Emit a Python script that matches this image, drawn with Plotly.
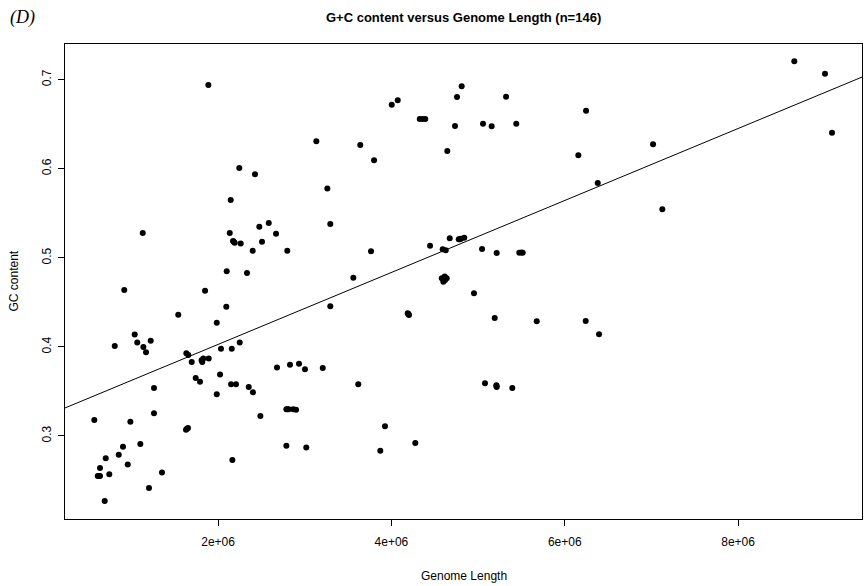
import numpy as np
import plotly.graph_objects as go

# Genome length in megabases (converted to bp below) and GC content
genome_mb = [
    1.888, 3.134, 2.245, 2.426, 2.146, 1.131, 2.135, 2.476, 2.585, 2.669,
    2.173, 2.192, 2.261, 2.507, 2.400, 2.799, 2.100, 2.334, 0.918, 1.850,
    2.095, 1.541, 1.985, 1.038, 0.808, 1.068, 1.138, 1.223, 1.169, 1.634,
    1.657, 1.696, 1.830, 1.892, 1.818, 2.034, 2.158, 2.250, 1.742, 1.792,
    2.023, 1.261, 1.985, 2.150, 2.207, 2.354, 2.403, 2.680, 2.830, 2.934,
    3.003, 0.572, 0.988, 1.261, 1.630, 1.653, 2.488, 2.788, 2.815, 2.868,
    2.900, 1.103, 0.903, 0.854, 0.704, 0.638, 0.958, 0.612, 0.638, 0.745,
    1.353, 1.203, 0.692, 2.165, 2.788, 3.018, 4.811, 4.757, 5.323, 4.004,
    4.073, 4.327, 4.391, 4.734, 5.057, 5.157, 5.441, 3.641, 3.800, 4.645,
    6.157, 3.261, 3.295, 3.765, 4.446, 4.592, 4.627, 4.673, 4.777, 4.803,
    4.841, 5.046, 5.215, 5.476, 5.515, 3.561, 4.581, 4.607, 4.638, 4.599,
    4.953, 3.295, 4.188, 4.203, 5.192, 5.677, 3.208, 3.618, 5.080, 5.211,
    5.215, 5.395, 3.926, 3.872, 4.276, 8.649, 9.003, 6.246, 7.019, 6.381,
    9.084, 7.126, 6.242, 6.396,
    0.625, 4.620, 4.615, 2.180, 4.195, 5.213, 1.640, 2.800, 4.790, 5.500,
    4.360, 1.810,
]
gc_content = [
    0.694, 0.631, 0.601, 0.594, 0.565, 0.528, 0.528, 0.535, 0.539, 0.527,
    0.519, 0.517, 0.516, 0.518, 0.508, 0.508, 0.485, 0.483, 0.464, 0.463,
    0.445, 0.436, 0.427, 0.414, 0.401, 0.405, 0.400, 0.407, 0.394, 0.393,
    0.391, 0.383, 0.387, 0.387, 0.383, 0.398, 0.398, 0.405, 0.365, 0.361,
    0.369, 0.354, 0.347, 0.358, 0.358, 0.355, 0.349, 0.377, 0.380, 0.381,
    0.375, 0.318, 0.316, 0.3255, 0.307, 0.309, 0.3225, 0.330, 0.330, 0.330,
    0.3295, 0.291, 0.288, 0.279, 0.275, 0.264, 0.268, 0.255, 0.255, 0.257,
    0.259, 0.2415, 0.227, 0.273, 0.289, 0.287, 0.6926, 0.6806, 0.681, 0.672,
    0.677, 0.656, 0.656, 0.648, 0.6506, 0.6477, 0.6506, 0.6267, 0.6095, 0.620,
    0.6151, 0.578, 0.538, 0.5074, 0.5136, 0.5096, 0.5085, 0.522, 0.5208, 0.5215,
    0.5226, 0.510, 0.5055, 0.5058, 0.5058, 0.4777, 0.477, 0.477, 0.477, 0.4732,
    0.4602, 0.4456, 0.4378, 0.4359, 0.4325, 0.4288, 0.3764, 0.358, 0.3592, 0.3569,
    0.355, 0.3539, 0.3109, 0.2835, 0.2922, 0.7207, 0.7067, 0.6652, 0.6275, 0.584,
    0.6405, 0.5545, 0.4291, 0.4142,
    0.255, 0.475, 0.479, 0.518, 0.437, 0.356, 0.308, 0.330, 0.521, 0.506,
    0.656, 0.385,
]

# Regression line (abline) coefficients
fit_intercept = 0.3220        # GC content at length 0
fit_slope_per_mb = 0.0404     # GC content change per megabase

x_tick_vals = [2e6, 4e6, 6e6, 8e6]
x_tick_text = ["2e+06", "4e+06", "6e+06", "8e+06"]
y_tick_vals = [0.3, 0.4, 0.5, 0.6, 0.7]
y_tick_text = ["0.3", "0.4", "0.5", "0.6", "0.7"]

title_text = "G+C content versus Genome Length (n=146)"
panel_label = "(D)"
x_label = "Genome Length"
y_label = "GC content"

x = np.array(genome_mb) * 1e6
y = np.array(gc_content)

x_range = [0.234e6, 9.43e6]
y_range = [0.2068, 0.7401]

line_x = np.array(x_range)
line_y = fit_intercept + fit_slope_per_mb * line_x / 1e6

fig = go.Figure()
fig.add_trace(go.Scatter(
    x=line_x, y=line_y, mode="lines",
    line=dict(color="black", width=1), hoverinfo="skip", showlegend=False,
))
fig.add_trace(go.Scatter(
    x=x, y=y, mode="markers",
    marker=dict(color="black", size=6, line=dict(width=0)),
    showlegend=False,
))

font_family = "Liberation Sans, Arial, sans-serif"
fig.update_layout(
    width=864, height=586,
    margin=dict(l=65, r=2, t=44, b=67),
    paper_bgcolor="white", plot_bgcolor="white",
    font=dict(family=font_family, size=12, color="black"),
    showlegend=False,
    xaxis=dict(
        range=x_range, showgrid=False, zeroline=False, automargin=False,
        showline=True, mirror=True, linecolor="black", linewidth=1,
        ticks="outside", ticklen=6, tickcolor="black", tickwidth=1,
        tickvals=x_tick_vals, ticktext=x_tick_text,
        tickfont=dict(size=12, family=font_family),
        ticklabelstandoff=6,
    ),
    yaxis=dict(
        range=y_range, showgrid=False, zeroline=False, automargin=False,
        showline=True, mirror=True, linecolor="black", linewidth=1,
        ticks="outside", ticklen=6, tickcolor="black", tickwidth=1,
        tickvals=y_tick_vals, ticktext=y_tick_text, tickangle=-90,
        tickfont=dict(size=12, family=font_family),
        ticklabelstandoff=2,
    ),
    annotations=[
        dict(text="<b>" + title_text + "</b>", xref="paper", yref="paper",
             x=0.5, y=1 + 27 / 475, xanchor="center", yanchor="middle",
             showarrow=False, font=dict(size=13, family=font_family)),
        dict(text="<i>" + panel_label + "</i>", xref="paper", yref="paper",
             x=(8 - 65) / 797, y=1 + 26 / 475, xanchor="left", yanchor="middle",
             showarrow=False,
             font=dict(size=18, family="Liberation Serif, Times New Roman, serif")),
        dict(text=x_label, xref="paper", yref="paper",
             x=0.5, y=-57 / 475, xanchor="center", yanchor="middle",
             showarrow=False, font=dict(size=12, family=font_family)),
        dict(text=y_label, xref="paper", yref="paper",
             x=(13 - 65) / 797, y=0.5, xanchor="center", yanchor="middle",
             textangle=-90, showarrow=False, font=dict(size=12, family=font_family)),
    ],
)

fig.write_html(
    "out.html",
    config={"displayModeBar": False},
    post_script="document.body.style.margin='0';document.body.style.overflow='hidden';",
)
